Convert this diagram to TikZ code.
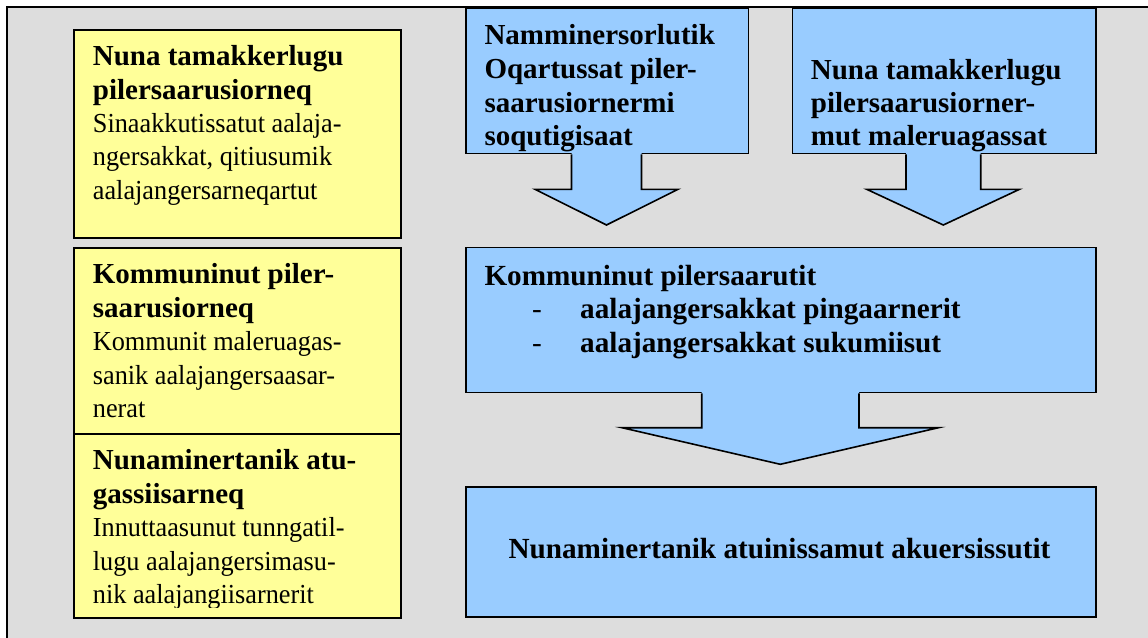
\documentclass[tikz,border=0pt]{standalone}
\usepackage{fontspec}
\setmainfont{Liberation Serif}
\usepackage{graphicx}
\usetikzlibrary{calc}
\definecolor{bggray}{HTML}{DDDDDD}
\definecolor{ylw}{HTML}{FFFF99}
\definecolor{lblue}{HTML}{99CCFF}
\newcommand\ybld[1]{{\fontsize{29}{33.4}\selectfont\bfseries #1}}
\newcommand\yreg[1]{\scalebox{0.955}[1]{\fontsize{27.5}{33.4}\selectfont #1}}
\newcommand\abld[1]{{\bfseries #1}}
\newcommand\mbld[1]{{\bfseries #1}}
\begin{document}
\begin{tikzpicture}[x=1pt,y=-1pt,
  ybox/.style={draw=black, line width=1.6pt, fill=ylw, inner sep=0pt, anchor=north west},
  bbox/.style={draw=black, line width=1.6pt, fill=lblue, inner sep=0pt, anchor=north west},
  txt/.style={inner sep=0pt, anchor=base west},
  arrline/.style={draw=black, line width=1.6pt, line join=miter}]
\useasboundingbox (0,0) rectangle (1148,637);
\clip (0,0) rectangle (1148,637);
\fill[white] (0,0) rectangle (1148,637);
\node[draw=black, line width=2pt, fill=bggray, minimum width=1200pt, minimum height=700pt, anchor=north west, inner sep=0pt] (frame) at (6,6) {};

% yellow column
\node[ybox, minimum width=327pt, minimum height=208pt] (y1) at (73,29) {};
\node[ybox, minimum width=327pt, minimum height=186pt] (y2) at (73,247) {};
\node[ybox, minimum width=327pt, minimum height=184pt] (y3) at (73,433) {};
\node[txt] (y1t) at (92.7,65.7) {\fontsize{27.5}{33.4}\selectfont\begin{tabular}[t]{@{}l@{}}
\ybld{Nuna tamakkerlugu}\\
\ybld{pilersaarusiorneq}\\
\yreg{Sinaakkutissatut aalaja-}\\
\yreg{ngersakkat, qitiusumik}\\
\yreg{aalajangersarneqartut}\end{tabular}};
\node[txt] (y2t) at (92.7,283.5) {\fontsize{27.5}{33.6}\selectfont\begin{tabular}[t]{@{}l@{}}
\ybld{Kommuninut piler-}\\
\ybld{saarusiorneq}\\
\yreg{Kommunit maleruagas-}\\
\yreg{sanik aalajangersaasar-}\\
\yreg{nerat}\end{tabular}};
\begin{scope}
\clip (73,433) rectangle (400,607);
\node[txt] (y3t) at (92.7,469.5) {\fontsize{27.5}{33.5}\selectfont\begin{tabular}[t]{@{}l@{}}
\ybld{Nunaminertanik atu-}\\
\ybld{gassiisarneq}\\
\yreg{Innuttaasunut tunngatil-}\\
\yreg{lugu aalajangersimasu-}\\
\yreg{nik aalajangiisarnerit}\end{tabular}};
\end{scope}

% blue boxes
\node[bbox, minimum width=282.7pt, minimum height=145.4pt] (A) at (465,7.3) {};
\node[bbox, minimum width=303.6pt, minimum height=145.4pt] (B) at (791.7,7.3) {};
\node[bbox, minimum width=630.3pt, minimum height=145pt] (M) at (465,246.7) {};
\node[bbox, minimum width=630.3pt, minimum height=130pt] (Bt) at (465,486.3) {};

% arrow A -> M
\coordinate (aTip) at ($(606.5,0 |- M.north)+(0,-21.7)$);
\fill[lblue] ($(571.5,0 |- A.south)+(0,-2)$) -- (571.5,189.3) -- (535,189.3) -- (aTip) -- (678,189.3) -- (641.5,189.3) -- ($(641.5,0 |- A.south)+(0,-2)$) -- cycle;
\draw[arrline] (571.5,0 |- A.south) -- (571.5,189.3) -- (535,189.3) -- (aTip) -- (678,189.3) -- (641.5,189.3) -- (641.5,0 |- A.south);
% arrow B -> M
\coordinate (bTip) at ($(943.3,0 |- M.north)+(0,-21.7)$);
\fill[lblue] ($(906,0 |- B.south)+(0,-2)$) -- (906,189.3) -- (866.7,189.3) -- (bTip) -- (1019.5,189.3) -- (980.7,189.3) -- ($(980.7,0 |- B.south)+(0,-2)$) -- cycle;
\draw[arrline] (906,0 |- B.south) -- (906,189.3) -- (866.7,189.3) -- (bTip) -- (1019.5,189.3) -- (980.7,189.3) -- (980.7,0 |- B.south);
% arrow M -> Bt
\coordinate (cTip) at ($(780.3,0 |- Bt.north)+(0,-22)$);
\fill[lblue] ($(701.7,0 |- M.south)+(0,-2)$) -- (701.7,427.7) -- (622,427.7) -- (cTip) -- (938.5,427.7) -- (859,427.7) -- ($(859,0 |- M.south)+(0,-2)$) -- cycle;
\draw[arrline] (701.7,0 |- M.south) -- (701.7,427.7) -- (622,427.7) -- (cTip) -- (938.5,427.7) -- (859,427.7) -- (859,0 |- M.south);

% blue texts
\node[txt] (At) at (484.3,44.5) {\fontsize{29}{33.8}\selectfont\begin{tabular}[t]{@{}l@{}}
\abld{Namminersorlutik}\\
\abld{Oqartussat piler-}\\
\abld{saarusiornermi}\\
\abld{soqutigisaat}\end{tabular}};
\node[txt] (Btx) at (810.7,79.5) {\fontsize{29}{33.2}\selectfont\begin{tabular}[t]{@{}l@{}}
\abld{Nuna tamakkerlugu}\\
\abld{pilersaarusiorner-}\\
\abld{mut maleruagassat}\end{tabular}};
\node[txt] (Mt) at (484.3,285) {\fontsize{29.2}{33.6}\selectfont\begin{tabular}[t]{@{}l@{}}
\mbld{Kommuninut pilersaarutit}\\
\hspace*{47.7pt}\makebox[48pt][l]{-}\mbld{aalajangersakkat pingaarnerit}\\
\hspace*{47.7pt}\makebox[48pt][l]{-}\mbld{aalajangersakkat sukumiisut}\end{tabular}};
\node[inner sep=0pt, anchor=base] (Btt) at (779.5,558.3) {\fontsize{29.2}{34}\selectfont\bfseries Nunaminertanik atuinissamut akuersissutit};
\end{tikzpicture}
\end{document}
